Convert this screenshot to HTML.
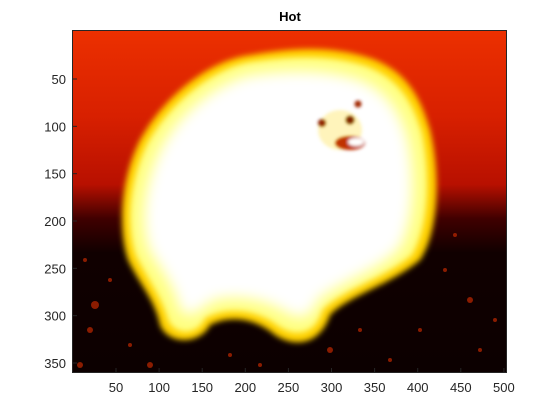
<!DOCTYPE html>
<html><head><meta charset="utf-8"><style>
body{margin:0;background:#fff;}
svg{display:block;font-family:"Liberation Sans",sans-serif;}
</style></head><body>
<svg width="560" height="420" viewBox="0 0 560 420">
<defs>
<linearGradient id="bg" x1="0" y1="0" x2="0" y2="1">
<stop offset="0" stop-color="#ec3000"/>
<stop offset="0.25" stop-color="#d82000"/>
<stop offset="0.45" stop-color="#b81000"/>
<stop offset="0.55" stop-color="#400000"/>
<stop offset="0.65" stop-color="#100000"/>
<stop offset="1" stop-color="#0c0000"/>
</linearGradient>
<filter id="b8" x="-30%" y="-30%" width="160%" height="160%"><feGaussianBlur stdDeviation="7"/></filter>
<filter id="b3" x="-30%" y="-30%" width="160%" height="160%"><feGaussianBlur stdDeviation="3"/></filter>
<filter id="b2"><feGaussianBlur stdDeviation="1.5"/></filter>
<clipPath id="ax"><rect x="72" y="30" width="435" height="343"/></clipPath>
</defs>
<text x="290" y="21" text-anchor="middle" font-size="13" font-weight="bold" fill="#000">Hot</text>
<g clip-path="url(#ax)">
<rect x="72" y="30" width="435" height="343" fill="url(#bg)"/>
<g fill="#c02800" opacity="0.7">
<circle cx="90" cy="330" r="3"/><circle cx="130" cy="345" r="2"/><circle cx="95" cy="305" r="4"/><circle cx="230" cy="355" r="2"/><circle cx="330" cy="350" r="3"/><circle cx="420" cy="330" r="2"/><circle cx="470" cy="300" r="3"/><circle cx="85" cy="260" r="2"/><circle cx="480" cy="350" r="2"/><circle cx="390" cy="360" r="2"/>
<circle cx="110" cy="280" r="2"/><circle cx="445" cy="270" r="2"/><circle cx="495" cy="320" r="2"/><circle cx="260" cy="365" r="2"/><circle cx="360" cy="330" r="2"/><circle cx="150" cy="365" r="3"/><circle cx="80" cy="365" r="3"/><circle cx="455" cy="235" r="2"/>
</g>
<path d="M250,55 C210,60 165,95 140,140 C120,180 118,230 128,260 C140,285 155,300 160,325 C168,345 200,345 210,325 C230,315 255,318 275,335 C295,348 320,345 330,315 C350,295 390,285 420,260 C440,230 440,170 430,130 C420,95 405,70 370,58 C330,45 290,48 250,55 Z" fill="#ffd000" filter="url(#b3)"/>
<path d="M250,62 C215,68 172,100 148,142 C128,182 126,228 136,256 C148,280 162,298 168,320 C175,336 198,336 205,318 C228,306 258,310 278,326 C295,338 316,335 322,310 C345,288 385,278 412,255 C430,225 430,172 422,133 C412,100 398,78 366,66 C330,54 290,56 250,62 Z" fill="#ffff80" filter="url(#b3)"/>
<path d="M250,75 C220,82 180,110 160,150 C142,188 140,228 150,252 C165,275 175,290 180,310 C190,322 198,310 215,300 C240,295 265,300 285,312 C300,322 312,318 318,300 C345,280 380,270 400,248 C415,220 415,175 408,140 C400,110 385,90 360,80 C325,68 285,70 250,75 Z" fill="#fff" filter="url(#b8)"/>
<g filter="url(#b2)">
<ellipse cx="340" cy="130" rx="22" ry="20" fill="#ffe040" opacity="0.35"/>
<circle cx="322" cy="123" r="4" fill="#902000"/>
<circle cx="358" cy="104" r="3.5" fill="#a02800"/>
<circle cx="350" cy="120" r="4.5" fill="#802000"/>
<ellipse cx="350" cy="143" rx="15" ry="7" fill="#c03000"/>
<ellipse cx="356" cy="142" rx="8" ry="4" fill="#fff"/>
</g>
</g>
<rect x="72.5" y="30.5" width="434" height="342" fill="none" stroke="#262626" stroke-width="1"/>
<g id="xt" font-size="13" fill="#262626" text-anchor="middle"></g>
<g id="yt" font-size="13" fill="#262626" text-anchor="end"></g>
<script>
const xTicks=[50,100,150,200,250,300,350,400,450,500];
const yTicks=[50,100,150,200,250,300,350];
const xs=v=>116+(v-50)*0.862;
const ys=v=>79+(v-50)*0.9467;
const ns="http://www.w3.org/2000/svg";
const xg=document.getElementById('xt'),yg=document.getElementById('yt');
xTicks.forEach(v=>{
 const t=document.createElementNS(ns,'text');
 t.setAttribute('x',xs(v));t.setAttribute('y',392);t.textContent=v;
 
 
 xg.appendChild(t);
 const l=document.createElementNS(ns,'line');
 l.setAttribute('x1',xs(v));l.setAttribute('x2',xs(v));l.setAttribute('y1',373);l.setAttribute('y2',368);
 l.setAttribute('stroke','#262626');
 
 
 xg.appendChild(l);
});
yTicks.forEach(v=>{
 const t=document.createElementNS(ns,'text');
 t.setAttribute('x',66);t.setAttribute('y',ys(v)+5);t.textContent=v;
 
 
 yg.appendChild(t);
 const l=document.createElementNS(ns,'line');
 l.setAttribute('x1',72);l.setAttribute('x2',77);l.setAttribute('y1',ys(v));l.setAttribute('y2',ys(v));
 l.setAttribute('stroke','#262626');
 
 
 yg.appendChild(l);
});
</script>
</svg>
</body></html>
